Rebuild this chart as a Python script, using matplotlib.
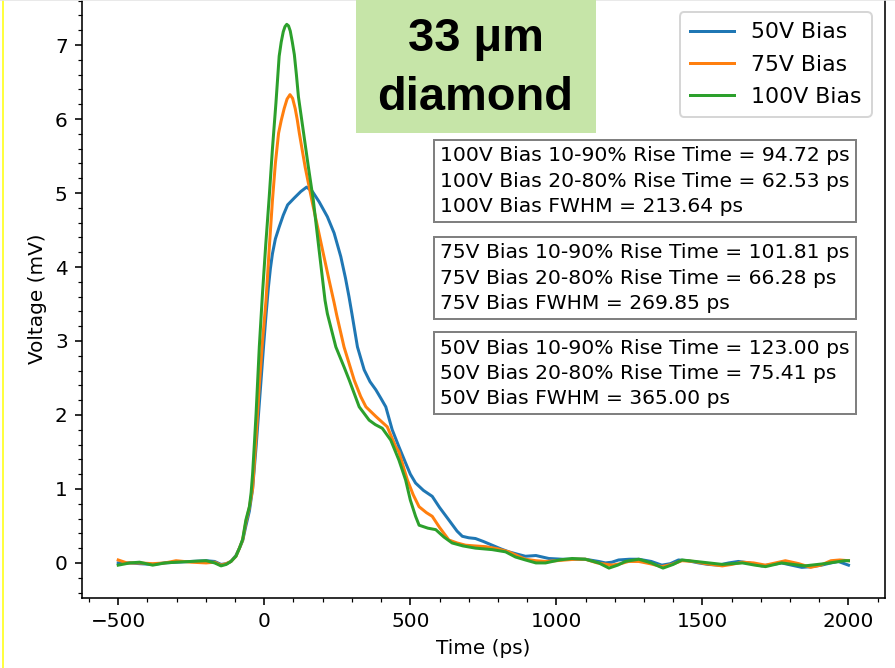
import matplotlib
matplotlib.use("Agg")
import matplotlib.pyplot as plt
from matplotlib.lines import Line2D
from matplotlib.patches import Rectangle
from matplotlib.ticker import AutoMinorLocator

# pulse traces (time in ps, amplitude in mV)
t_50v = [-500, -460, -427, -382, -340, -302, -250, -199, -170, -148,
         -130, -114, -97, -85, -74, -63, -51, -40, -28, -11,
         -2, 6, 14, 21, 28, 38, 51, 65, 80, 102,
         125, 145, 165, 188, 216, 239, 262, 278, 290, 300,
         319, 342, 362, 382, 400, 416, 438, 461, 484, 500,
         518, 545, 575, 600, 632, 660, 678, 700, 723, 750,
         780, 810, 837, 865, 894, 930, 974, 1020, 1054, 1099,
         1145, 1168, 1190, 1213, 1250, 1282, 1325, 1361, 1390, 1418,
         1450, 1487, 1520, 1555, 1590, 1623, 1660, 1703, 1740, 1771,
         1805, 1840, 1875, 1908, 1940, 1965, 2000]
v_50v = [0.0, 0.0, -0.01, -0.02, 0.0, 0.01, 0.02, 0.03, 0.02, -0.02,
         -0.01, 0.02, 0.1, 0.2, 0.3, 0.5, 0.7, 1.0, 1.57, 2.47,
         2.95, 3.35, 3.72, 3.98, 4.18, 4.38, 4.54, 4.7, 4.84, 4.93,
         5.02, 5.08, 5.02, 4.88, 4.68, 4.46, 4.14, 3.85, 3.6, 3.37,
         2.92, 2.61, 2.45, 2.34, 2.22, 2.11, 1.8, 1.57, 1.35, 1.2,
         1.08, 0.98, 0.9, 0.75, 0.58, 0.43, 0.36, 0.34, 0.33, 0.29,
         0.24, 0.19, 0.15, 0.12, 0.09, 0.1, 0.06, 0.05, 0.05, 0.05,
         0.02, 0.0, 0.01, 0.04, 0.05, 0.05, 0.02, -0.03, -0.01, 0.04,
         0.03, 0.0, -0.02, -0.03, 0.0, 0.02, 0.0, -0.04, -0.02, 0.0,
         -0.03, -0.06, -0.05, -0.03, 0.0, 0.02, -0.03]

t_75v = [-500, -470, -427, -382, -340, -302, -250, -199, -170, -148,
         -130, -114, -97, -85, -74, -63, -51, -40, -28, -17,
         -6, 6, 17, 28, 38, 49, 58, 68, 78, 88,
         97, 106, 113, 120, 140, 163, 200, 222, 239, 248,
         273, 308, 330, 348, 382, 421, 450, 461, 490, 510,
         530, 555, 575, 600, 632, 660, 689, 720, 758, 800,
         837, 865, 894, 930, 963, 1000, 1031, 1065, 1099, 1140,
         1190, 1220, 1247, 1282, 1320, 1361, 1395, 1430, 1470, 1510,
         1568, 1600, 1637, 1675, 1716, 1750, 1784, 1830, 1870, 1905,
         1940, 1970, 2000]
v_75v = [0.04, 0.0, 0.0, -0.01, 0.0, 0.03, 0.01, 0.0, 0.01, -0.03,
         -0.01, 0.02, 0.09, 0.2, 0.31, 0.55, 0.75, 1.0, 1.7, 2.4,
         3.0, 3.55, 4.25, 4.9, 5.4, 5.81, 5.98, 6.14, 6.27, 6.33,
         6.28, 6.14, 5.99, 5.81, 5.35, 4.9, 4.22, 3.82, 3.52, 3.35,
         2.92, 2.47, 2.25, 2.11, 1.98, 1.84, 1.57, 1.5, 1.12, 0.92,
         0.76, 0.68, 0.63, 0.48, 0.31, 0.27, 0.24, 0.23, 0.22, 0.19,
         0.15, 0.1, 0.05, 0.03, 0.02, 0.03, 0.04, 0.05, 0.05, 0.0,
         -0.03, -0.01, 0.02, 0.02, -0.01, -0.05, -0.02, 0.03, 0.02, -0.01,
         -0.04, -0.02, 0.01, 0.0, -0.03, 0.0, 0.03, -0.01, -0.06, -0.03,
         0.03, 0.04, 0.03]

t_100v = [-500, -460, -427, -382, -340, -302, -250, -199, -170, -148,
          -130, -114, -97, -85, -74, -63, -51, -45, -40, -34,
          -28, -17, -6, 5, 17, 28, 40, 51, 58, 65,
          71, 77, 83, 89, 96, 103, 110, 117, 126, 135,
          150, 168, 188, 208, 216, 245, 273, 291, 325, 359,
          380, 404, 433, 461, 484, 500, 518, 530, 560, 587,
          615, 643, 680, 723, 780, 826, 860, 894, 930, 963,
          1010, 1054, 1099, 1145, 1180, 1210, 1236, 1282, 1325, 1365,
          1400, 1430, 1500, 1568, 1637, 1680, 1716, 1771, 1810, 1850,
          1918, 1987, 2000]
v_100v = [-0.03, 0.0, 0.01, -0.03, 0.0, 0.01, 0.02, 0.03, 0.0, -0.04,
          -0.02, 0.02, 0.09, 0.2, 0.32, 0.58, 0.76, 0.95, 1.2, 1.6,
          2.02, 2.92, 3.65, 4.3, 4.95, 5.6, 6.22, 6.85, 7.04, 7.18,
          7.25, 7.28, 7.26, 7.19, 7.04, 6.87, 6.6, 6.3, 6.05, 5.8,
          5.38, 4.9, 4.22, 3.55, 3.37, 2.92, 2.65, 2.47, 2.11, 1.93,
          1.87, 1.82, 1.66, 1.39, 1.12, 0.85, 0.63, 0.51, 0.47, 0.45,
          0.35, 0.27, 0.23, 0.2, 0.18, 0.15, 0.08, 0.04, 0.0, 0.0,
          0.04, 0.06, 0.05, 0.0, -0.07, -0.03, 0.02, 0.05, 0.0, -0.07,
          -0.02, 0.04, 0.01, -0.02, 0.0, -0.03, -0.05, 0.0, -0.02, -0.04,
          -0.01, 0.03, 0.03]

series = [("50V Bias", t_50v, v_50v),
          ("75V Bias", t_75v, v_75v),
          ("100V Bias", t_100v, v_100v)]

summary = {
    "100V": ("94.72", "62.53", "213.64"),
    "75V": ("101.81", "66.28", "269.85"),
    "50V": ("123.00", "75.41", "365.00"),
}

fig = plt.figure(figsize=(895 / 144, 668 / 144), dpi=144)
ax = fig.add_axes([81.7 / 895, 70.3 / 668, 803.3 / 895, 598.5 / 668])

for label, t, v in series:
    ax.plot(t, v, lw=1.5, label=label)

ax.set_xlim(-625, 2125)
ax.set_ylim(-0.47, 7.62)
ax.xaxis.set_minor_locator(AutoMinorLocator())
ax.yaxis.set_minor_locator(AutoMinorLocator())
ax.set_xlabel("Time (ps)")
ax.set_ylabel("Voltage (mV)")
ax.legend(loc="upper right", fontsize=11, handlelength=2.0,
          labelspacing=0.56, borderpad=0.45, borderaxespad=0.6)

box_y = [0.754, 0.592, 0.433]
for y, (bias, (r1090, r2080, fwhm)) in zip(box_y, summary.items()):
    txt = (f"{bias} Bias 10-90% Rise Time = {r1090} ps\n"
           f"{bias} Bias 20-80% Rise Time = {r2080} ps\n"
           f"{bias} Bias FWHM = {fwhm} ps")
    ax.text(0.4465, y, txt, transform=ax.transAxes, va="top", ha="left",
            fontsize=10.1, linespacing=1.42,
            bbox=dict(boxstyle="square,pad=0.3", fc="white", ec="gray"))

# sample label in the green panel
fig.add_artist(Rectangle((356 / 895, 1 - 132.6 / 668), 240 / 895, 132.6 / 668,
                         transform=fig.transFigure, facecolor="#c6e5a8",
                         edgecolor="none", zorder=5))
fig.text(476 / 895, 1 - 51 / 668, "33 μm", ha="center", va="baseline",
         family="Liberation Sans", weight="bold", fontsize=23.5, zorder=6)
fig.text(475 / 895, 1 - 110 / 668, "diamond", ha="center", va="baseline",
         family="Liberation Sans", weight="bold", fontsize=23.5, zorder=6)

# slide frame edges
fig.add_artist(Line2D([2.5 / 895, 2.5 / 895], [0, 1], color="#ffff40", lw=1.0,
                      transform=fig.transFigure))
fig.add_artist(Line2D([0, 1], [0.9995, 0.9995], color="#e4e4e4", lw=0.8,
                      transform=fig.transFigure))

fig.savefig("out.png", dpi=144)
